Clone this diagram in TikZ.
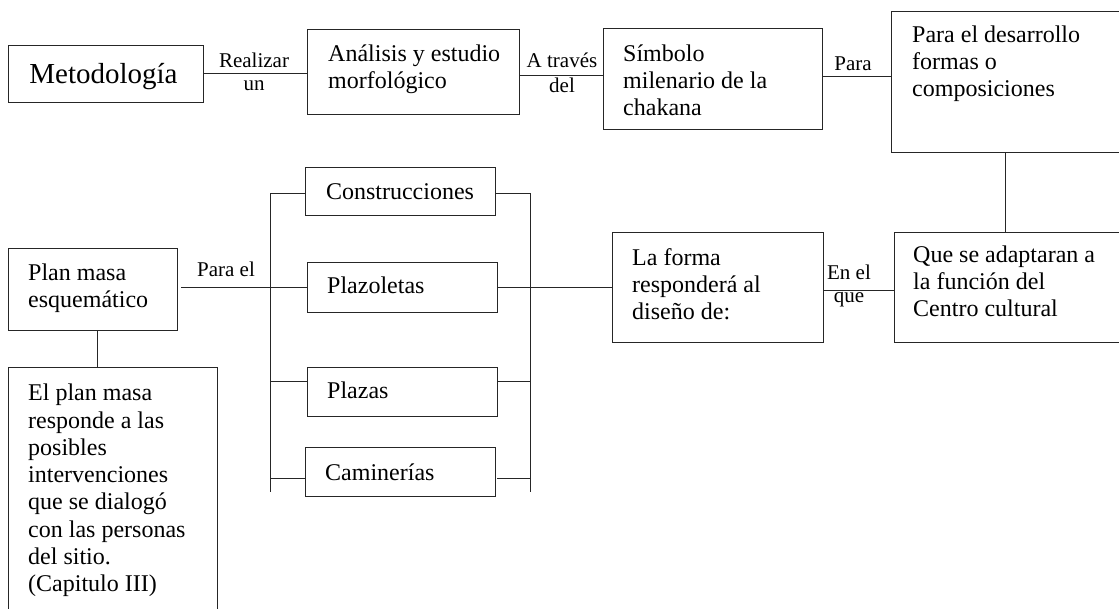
\documentclass[tikz,border=0pt]{standalone}
\usepackage{fontspec}
\setmainfont{Liberation Serif}
\newcommand{\ml}[1]{\vtop{\baselineskip=27.3pt\lineskiplimit=-100pt\halign{##\hfil\cr#1\crcr}}}
\tikzset{
  bx/.style={draw=black!85, line width=1pt, inner sep=0pt, outer sep=0pt, anchor=north west},
  ln/.style={draw=black!85, line width=1pt},
  txt/.style={anchor=base west, inner sep=0pt, font=\fontsize{24}{27.3}\selectfont},
  lbl/.style={anchor=base, inner sep=0pt, font=\fontsize{21}{24}\selectfont}
}
\begin{document}
\begin{tikzpicture}[x=1pt,y=-1pt]
\useasboundingbox (0,0) rectangle (1119,608);
\clip (0,0) rectangle (1119,608);
% boxes
\node[bx, minimum width=195pt, minimum height=57pt] (met) at (8,45) {};
\node[bx, minimum width=212pt, minimum height=85pt] (ana) at (307,29) {};
\node[bx, minimum width=219pt, minimum height=101pt] (sim) at (603,28) {};
\node[bx, minimum width=232pt, minimum height=141pt] (des) at (891,11) {};
\node[bx, minimum width=229pt, minimum height=110pt] (que) at (894,232) {};
\node[bx, minimum width=211pt, minimum height=110pt] (lafo) at (612,232) {};
\node[bx, minimum width=169pt, minimum height=82pt] (plan) at (8,248) {};
\node[bx, minimum width=209pt, minimum height=260pt] (epm) at (8,367) {};
\node[bx, minimum width=190pt, minimum height=48pt] (con) at (305,167) {};
\node[bx, minimum width=190pt, minimum height=50pt] (plz) at (307,262) {};
\node[bx, minimum width=190pt, minimum height=49pt] (pla) at (307,367) {};
\node[bx, minimum width=190pt, minimum height=49pt] (cam) at (305,447) {};
% texts
\node[anchor=base, inner sep=0pt, font=\fontsize{29}{32}\selectfont] (tmet) at (103.5,83) {Metodología};
\node[txt] (tana) at (328,61) {\ml{Análisis y estudio\cr morfológico}};
\node[txt] (tsim) at (623,61) {\ml{Símbolo\cr milenario de la\cr chakana}};
\node[txt] (tdes) at (912,42) {\ml{Para el desarrollo\cr formas o\cr composiciones}};
\node[txt] (tque) at (913,262) {\ml{Que se adaptaran a\cr la función del\cr Centro cultural}};
\node[txt] (tlafo) at (632,265) {\ml{La forma\cr responderá al\cr diseño de:}};
\node[txt] (tplan) at (28,280) {\ml{Plan masa\cr esquemático}};
\node[txt] (tepm) at (28,400.7) {\ml{El plan masa\cr responde a las\cr posibles\cr intervenciones\cr que se dialogó\cr con las personas\cr del sitio.\cr (Capitulo III)}};
\node[txt, anchor=base] (tcon) at (400,199) {Construcciones};
\node[txt] (tplz) at (327,293) {Plazoletas};
\node[txt] (tpla) at (327,398) {Plazas};
\node[txt] (tcam) at (325,480) {Caminerías};
% labels
\node[lbl] (l1a) at (254,67) {Realizar};
\node[lbl] (l1b) at (254,90) {un};
\node[lbl] (l2a) at (562,67) {A través};
\node[lbl] (l2b) at (562,92) {del};
\node[lbl] (l3) at (853,70) {Para};
\node[lbl] (l4) at (226,276) {Para el};
\node[lbl] (l5a) at (849,279) {En el};
\node[lbl] (l5b) at (849,302) {que};
% top row connectors
\draw[ln] (met.east) -- (met.east -| ana.west);
\coordinate (a1) at ([yshift=-3.5pt]ana.east);
\draw[ln] (a1) -- (a1 -| sim.west);
\coordinate (s1) at ([yshift=2.5pt]sim.east);
\draw[ln] (s1) -- (s1 -| des.west);
\coordinate (d1) at ([xshift=-2pt]des.south);
\draw[ln] (d1) -- (d1 |- que.north);
\coordinate (f1) at ([yshift=-3pt]lafo.east);
\draw[ln] (f1) -- (f1 -| que.west);
% plan masa
\coordinate (p1) at ([xshift=4pt]plan.east);
\draw[ln] (p1 |- plz.west) -- (plz.west);
\coordinate (p2) at ([xshift=4.5pt]plan.south);
\draw[ln] (p2) -- (p2 |- epm.north);
% buses
\coordinate (lb1) at (270,193);
\coordinate (lb2) at (270,492);
\coordinate (rb1) at (530,193);
\coordinate (rb2) at (530,492);
\draw[ln] (lb1) -- (lb2);
\draw[ln] (rb1) -- (rb2);
\draw[ln] (lb1) -- (lb1 -| con.west);
\draw[ln] (rb1 -| con.east) -- (rb1);
\draw[ln] (plz.east) -- (lafo.west);
\coordinate (pl) at (270,381);
\draw[ln] (pl) -- (pl -| pla.west);
\draw[ln] (pl -| pla.east) -- (pl -| rb1);
\coordinate (cm) at (270,478);
\draw[ln] (cm) -- (cm -| cam.west);
\coordinate (cmr) at (497,478);
\draw[ln] (cmr) -- (cmr -| rb1);
\end{tikzpicture}
\end{document}
